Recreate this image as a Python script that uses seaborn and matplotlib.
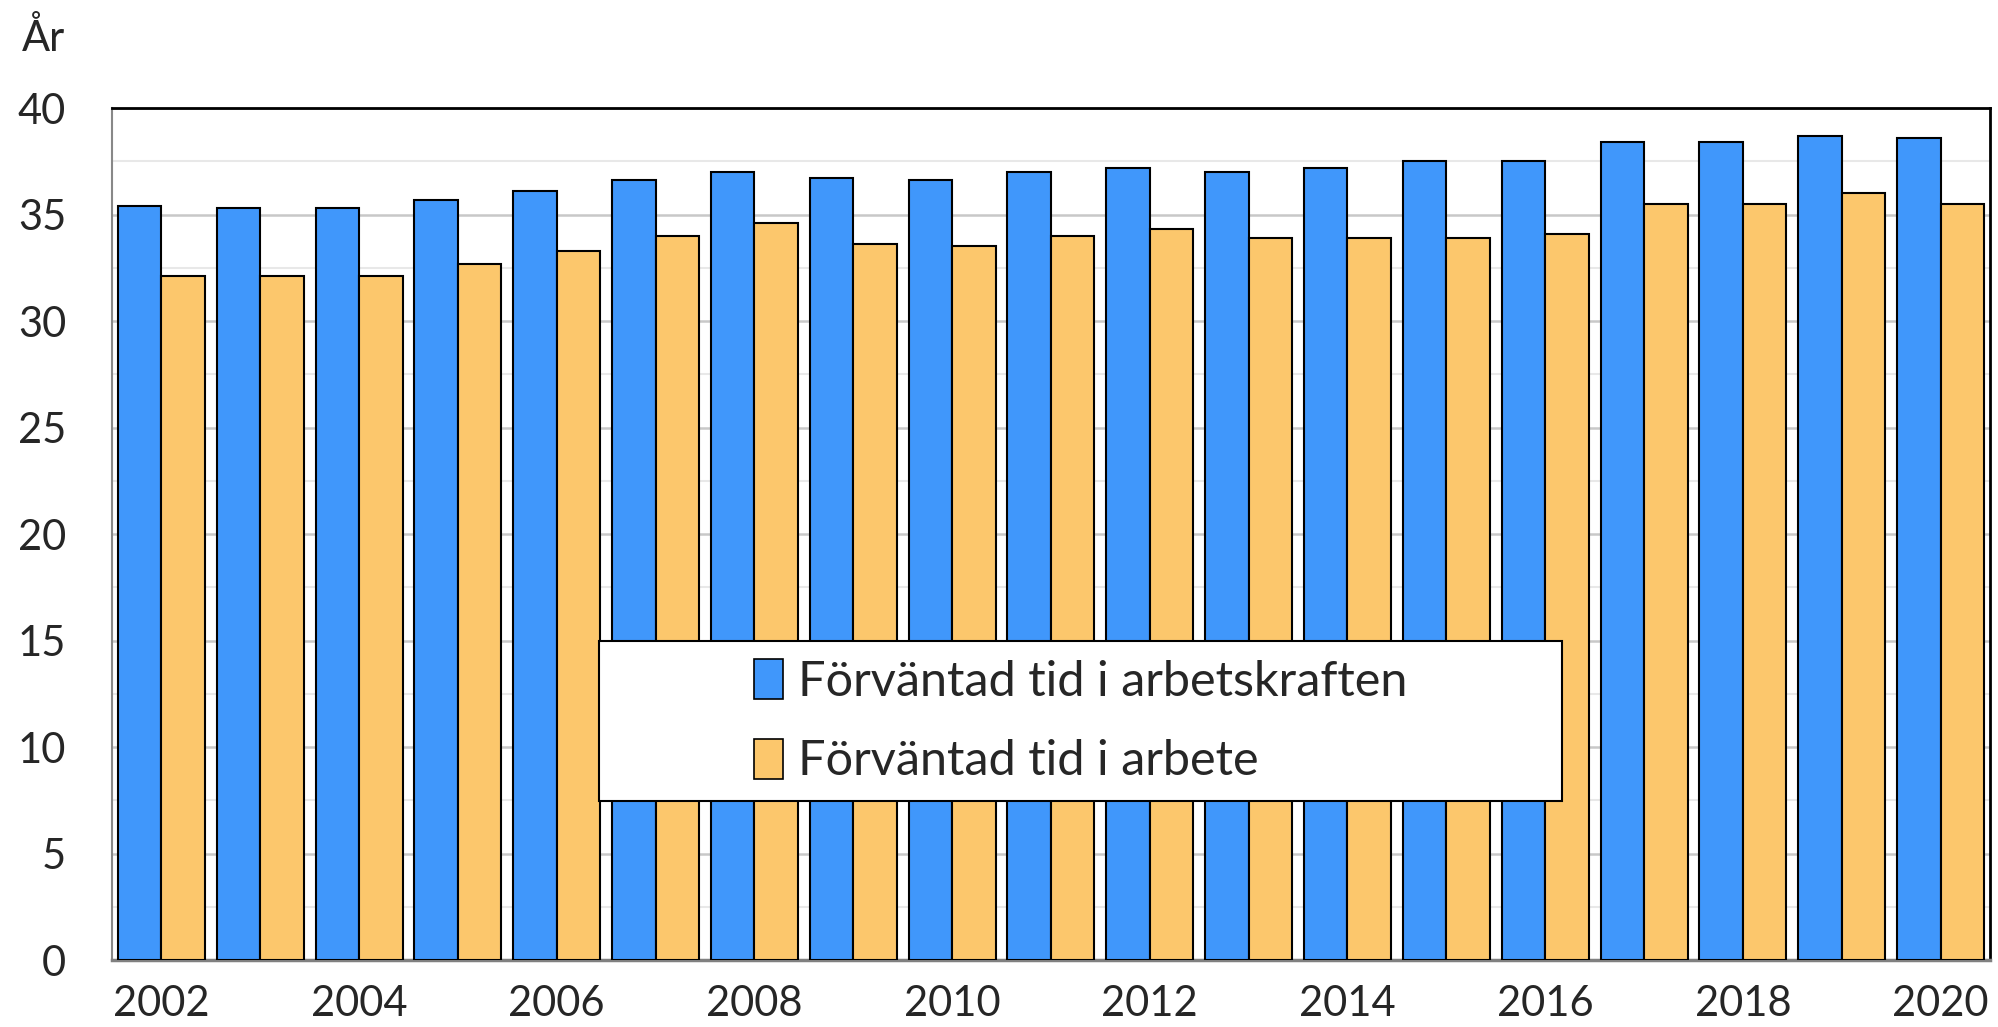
import matplotlib
matplotlib.use("Agg")
import matplotlib.pyplot as plt
from matplotlib.patches import Rectangle
import seaborn as sns
import pandas as pd

# värden
years = list(range(2002, 2021))
arbetskraften = [35.4, 35.3, 35.3, 35.7, 36.1, 36.6, 37.0, 36.7, 36.6,
                 37.0, 37.2, 37.0, 37.2, 37.5, 37.5, 38.4, 38.4, 38.7, 38.6]
arbete = [32.1, 32.1, 32.1, 32.7, 33.3, 34.0, 34.6, 33.6, 33.5,
          34.0, 34.3, 33.9, 33.9, 33.9, 34.1, 35.5, 35.5, 36.0, 35.5]
series_names = ["Förväntad tid i arbetskraften", "Förväntad tid i arbete"]
colors = ["#4097fb", "#fcc76c"]

df = pd.DataFrame({
    "year": years * 2,
    "value": arbetskraften + arbete,
    "serie": [series_names[0]] * len(years) + [series_names[1]] * len(years),
})

sns.set_style("white")
plt.rcParams["font.family"] = ["Lato", "DejaVu Sans"]

fig = plt.figure(figsize=(19.98, 10.27), dpi=100)
ax = fig.add_axes([0.056, 0.0652, 0.94, 0.8296])

sns.barplot(data=df, x="year", y="value", hue="serie", palette=colors,
            saturation=1, width=0.88, gap=0, edgecolor="black", linewidth=1.5,
            ax=ax, legend=False, zorder=3)

ax.set_ylim(0, 40)
ax.set_xlim(-0.5, len(years) - 0.5)
ax.set_yticks(range(0, 41, 5))
ax.set_yticks([2.5 + 5 * i for i in range(8)], minor=True)
ax.set_xticks(range(0, len(years), 2))
ax.set_xticklabels([str(y) for y in years[::2]])
ax.grid(axis="y", which="major", color="#c8c8c8", linewidth=1.8, zorder=0)
ax.grid(axis="y", which="minor", color="#e8e8e8", linewidth=1.5, zorder=0)
ax.set_axisbelow(True)
ax.tick_params(axis="y", which="both", length=0, labelsize=30, pad=33)
ax.tick_params(axis="x", length=0, labelsize=30, pad=18)
ax.set_xlabel("")
ax.set_ylabel("")

for s in ["top", "right"]:
    ax.spines[s].set_color("black")
    ax.spines[s].set_linewidth(2)
ax.spines["left"].set_color("#888888")
ax.spines["left"].set_linewidth(1.5)
ax.spines["bottom"].set_color("#808080")
ax.spines["bottom"].set_linewidth(2.5)

# legendruta
box = Rectangle((0.2593, 0.1866), 0.513, 0.1878, transform=ax.transAxes,
                facecolor="white", edgecolor="black", linewidth=1.5, zorder=5)
ax.add_patch(box)
handles = [Rectangle((0, 0), 1, 1, facecolor=c, edgecolor="black", linewidth=1.2)
           for c in colors]
leg = ax.legend(handles, series_names, loc="center", bbox_to_anchor=(0.5157, 0.2805),
                frameon=False, fontsize=35, handlelength=0.6, handleheight=0.9,
                handletextpad=0.3, labelspacing=0.72)
leg.set_zorder(6)

fig.text(0.011, 0.963, "År", fontsize=30, va="center", ha="left")

fig.savefig("out.png", dpi=100)
